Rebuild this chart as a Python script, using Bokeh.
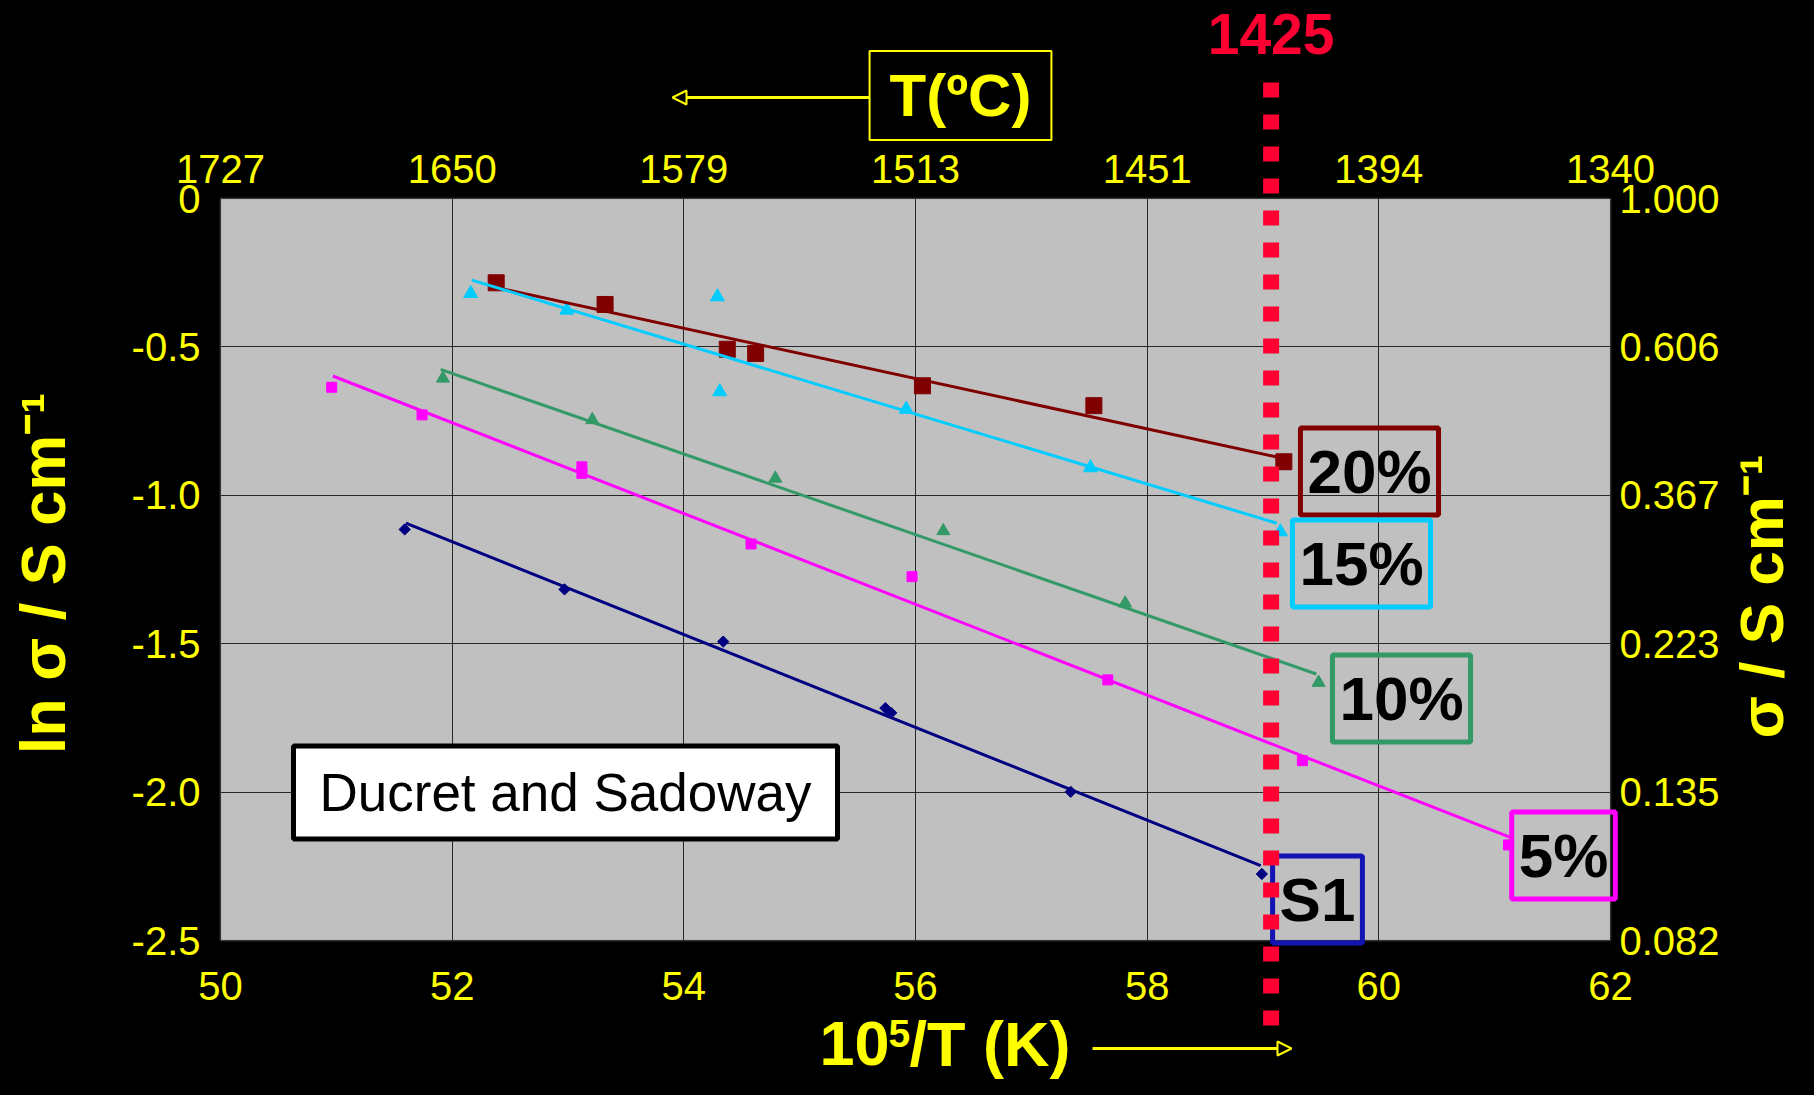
import numpy as np
from bokeh.plotting import figure
from bokeh.models import (Range1d, LinearAxis, FixedTicker, Label, Arrow, NormalHead,
                          BoxAnnotation, Grid)
from bokeh.embed import file_html
from bokeh.resources import INLINE

# ---------------- data ----------------
x_ticks = [50, 52, 54, 56, 58, 60, 62]
temp_c_labels = ["1727", "1650", "1579", "1513", "1451", "1394", "1340"]
y_ticks = [0.0, -0.5, -1.0, -1.5, -2.0, -2.5]
y_tick_labels = ["0", "-0.5", "-1.0", "-1.5", "-2.0", "-2.5"]
sigma_labels = ["1.000", "0.606", "0.367", "0.223", "0.135", "0.082"]

s1_x = [51.59, 52.97, 54.34, 55.74, 55.79, 57.34, 58.99]
s1_y = [-1.115, -1.317, -1.493, -1.717, -1.733, -1.999, -2.276]
p5_x = [50.96, 51.74, 53.12, 53.12, 54.58, 55.97, 57.66, 59.34, 61.12]
p5_y = [-0.636, -0.729, -0.904, -0.926, -1.164, -1.274, -1.622, -1.894, -2.178]
p10_x = [51.92, 53.21, 54.79, 56.24, 57.81, 59.48]
p10_y = [-0.606, -0.746, -0.943, -1.120, -1.364, -1.631]
p15_x = [52.16, 52.99, 54.29, 54.31, 55.92, 57.51, 59.15]
p15_y = [-0.320, -0.376, -0.331, -0.651, -0.710, -0.907, -1.123]
p20_x = [52.38, 53.32, 54.375, 54.62, 56.06, 57.54, 59.18]
p20_y = [-0.284, -0.357, -0.508, -0.522, -0.631, -0.698, -0.887]

# linear trend lines (end points)
fit_s1_x = [51.60, 58.98]
fit_s1_y = [-1.094, -2.248]
fit5_x = [50.97, 61.13]
fit5_y = [-0.598, -2.152]
fit10_x = [51.90, 59.46]
fit10_y = [-0.576, -1.602]
fit15_x = [52.17, 59.12]
fit15_y = [-0.275, -1.094]
fit20_x = [52.37, 59.13]
fit20_y = [-0.299, -0.872]

line_1425_x = 59.07   # 1425 °C marker line (as drawn)

X_MIN, X_MAX = 50, 62
Y_MIN, Y_MAX = -2.5, 0.0

# ---------------- layout (canvas pixels -> data) ----------------
W, H = 1798, 1079
FX0, FX1, FY0, FY1 = 220.0, 1610.0, 198.0, 940.0   # plot area edges in pixels


def dx(px):
    return X_MIN + (px - FX0) * (X_MAX - X_MIN) / (FX1 - FX0)


def dy(py):
    return Y_MAX - (py - FY0) * (Y_MAX - Y_MIN) / (FY1 - FY0)


FONT = "Liberation Sans"
YEL = "#FFFF00"

p = figure(width=W, height=H, x_range=Range1d(dx(0), dx(W)), y_range=Range1d(dy(H), dy(0)),
           output_backend="svg", toolbar_location=None,
           min_border_left=0, min_border_right=0, min_border_top=0, min_border_bottom=0,
           border_fill_color="black", background_fill_color="black")
p.outline_line_color = None

# plot area
p.add_layout(BoxAnnotation(left=X_MIN, right=X_MAX, bottom=Y_MIN, top=Y_MAX,
                           fill_color="#C0C0C0", fill_alpha=1.0, line_color=None,
                           level="image"))

# grid
has_cross = "cross_bounds" in Grid.properties()
if has_cross:
    p.xgrid.ticker = FixedTicker(ticks=x_ticks)
    p.ygrid.ticker = FixedTicker(ticks=y_ticks)
    p.xgrid.bounds = (X_MIN, X_MAX)
    p.xgrid.cross_bounds = (Y_MIN, Y_MAX)
    p.ygrid.bounds = (Y_MIN, Y_MAX)
    p.ygrid.cross_bounds = (X_MIN, X_MAX)
    for g in (p.xgrid, p.ygrid):
        g.grid_line_color = "black"
        g.grid_line_alpha = 0.8
        g.grid_line_width = 1
else:
    p.xgrid.visible = False
    p.ygrid.visible = False
    p.segment(x0=x_ticks, y0=[Y_MIN] * len(x_ticks), x1=x_ticks, y1=[Y_MAX] * len(x_ticks),
              line_color="black", line_alpha=0.8, line_width=1, level="underlay")
    p.segment(x0=[X_MIN] * len(y_ticks), y0=y_ticks, x1=[X_MAX] * len(y_ticks), y1=y_ticks,
              line_color="black", line_alpha=0.8, line_width=1, level="underlay")

# plot-area border
p.add_layout(BoxAnnotation(left=X_MIN, right=X_MAX, bottom=Y_MIN, top=Y_MAX,
                           fill_alpha=0, line_color="#808080", line_width=2, level="underlay"))


def style_axis(ax, standoff):
    ax.axis_line_color = None
    ax.major_tick_line_color = None
    ax.minor_tick_line_color = None
    ax.major_tick_out = 0
    ax.major_tick_in = 0
    ax.major_label_standoff = standoff
    ax.major_label_text_color = YEL
    ax.major_label_text_font = FONT
    ax.major_label_text_font_size = "40px"


xb = p.xaxis[0]
xb.ticker = FixedTicker(ticks=x_ticks)
xb.fixed_location = Y_MIN
style_axis(xb, 31)

yl = p.yaxis[0]
yl.ticker = FixedTicker(ticks=y_ticks)
yl.fixed_location = X_MIN
yl.major_label_overrides = {t: s for t, s in zip(y_ticks, y_tick_labels)}
style_axis(yl, 20)

xt = LinearAxis(ticker=FixedTicker(ticks=x_ticks), fixed_location=Y_MAX,
                major_label_overrides={t: s for t, s in zip(x_ticks, temp_c_labels)})
style_axis(xt, 16)
p.add_layout(xt, "above")

yr = LinearAxis(ticker=FixedTicker(ticks=y_ticks), fixed_location=X_MAX,
                major_label_overrides={t: s for t, s in zip(y_ticks, sigma_labels)})
style_axis(yr, 9)
p.add_layout(yr, "right")

# markers
p.scatter(s1_x, s1_y, marker="square", angle=np.pi / 4, size=8, color="#000080")
p.scatter(p5_x, p5_y, marker="square", size=10, color="#FF00FF")
p.scatter(p10_x, p10_y, marker="triangle", size=13, color="#339966")
p.scatter(p15_x, p15_y, marker="triangle", size=14, color="#00CCFF")
p.scatter(p20_x, p20_y, marker="square", size=16, color="#800000")

# trend lines
p.line(fit_s1_x, fit_s1_y, line_width=3, color="#000080")
p.line(fit5_x, fit5_y, line_width=3, color="#FF00FF")
p.line(fit10_x, fit10_y, line_width=3, color="#339966")
p.line(fit20_x, fit20_y, line_width=3, color="#800000")
p.line(fit15_x, fit15_y, line_width=3, color="#00CCFF")

# series boxes
box_specs = [
    ("20%", 1369, 471, "#800000"),
    ("15%", 1361, 563, "#00CCFF"),
    ("10%", 1401, 698, "#339966"),
    ("5%", 1563, 855, "#FF00FF"),
    ("S1", 1317, 899, "#1414B4"),
]
for txt, cx, cy, col in box_specs:
    p.add_layout(Label(x=dx(cx), y=dy(cy), text=txt, text_align="center", text_baseline="middle",
                       text_font=FONT, text_font_size="62px", text_font_style="bold",
                       text_color="black", border_line_color=col, border_line_width=5,
                       padding=dict(left=7, right=7, top=9, bottom=9)))

p.add_layout(Label(x=dx(565), y=dy(792), text="Ducret and Sadoway", text_align="center",
                   text_baseline="middle", text_font=FONT, text_font_size="53px",
                   text_color="black", background_fill_color="white",
                   border_line_color="black", border_line_width=5,
                   padding=dict(left=26, right=26, top=17, bottom=17)))


def title_label(text, cx, cy, size, angle=0.0, align="center", color=YEL):
    return Label(x=dx(cx), y=dy(cy), text=text, angle=angle, text_align=align,
                 text_baseline="middle", text_font=FONT, text_font_size=size,
                 text_font_style="bold", text_color=color)


# axis titles
p.add_layout(title_label("ln σ / S cm⁻¹", 42, 573, "63px", angle=np.pi / 2))
p.add_layout(title_label("σ / S cm⁻¹", 1761, 596, "62px", angle=np.pi / 2))
BT_Y = 1043
p.add_layout(title_label("10", 819, BT_Y, "63px", align="left"))
p.add_layout(title_label("5", 888, BT_Y - 10, "39px", align="left"))
p.add_layout(title_label("/T (K)", 909, BT_Y, "63px", align="left"))
p.add_layout(Label(x=dx(960), y=dy(95), text="T(ºC)", text_align="center",
                   text_baseline="middle", text_font=FONT, text_font_size="60px",
                   text_font_style="bold", text_color=YEL, background_fill_color="black",
                   border_line_color=YEL, border_line_width=2,
                   padding=dict(left=20, right=20, top=11, bottom=11)))

# arrows
p.add_layout(Arrow(x_start=dx(869), y_start=dy(97), x_end=dx(672), y_end=dy(97),
                   line_color=YEL, line_width=3,
                   end=NormalHead(size=14, fill_color="black", line_color=YEL, line_width=2)))
p.add_layout(Arrow(x_start=dx(1092), y_start=dy(BT_Y + 5), x_end=dx(1291), y_end=dy(BT_Y + 5),
                   line_color=YEL, line_width=3,
                   end=NormalHead(size=14, fill_color="black", line_color=YEL, line_width=2)))

# 1425 °C line and label
p.add_layout(Arrow(x_start=line_1425_x, y_start=dy(82), x_end=line_1425_x, y_end=dy(1025),
                   end=None, line_color="#FF0033", line_width=16, line_dash="15 17"))
p.add_layout(Label(x=line_1425_x, y=dy(33), text="1425", text_align="center",
                   text_baseline="middle", text_font=FONT, text_font_size="57px",
                   text_font_style="bold", text_color="#FF0033"))

html = file_html(p, INLINE)
html = html.replace("</head>", "<style>html, body { background-color: #000000; }</style></head>", 1)
open("out.html", "w").write(html)
